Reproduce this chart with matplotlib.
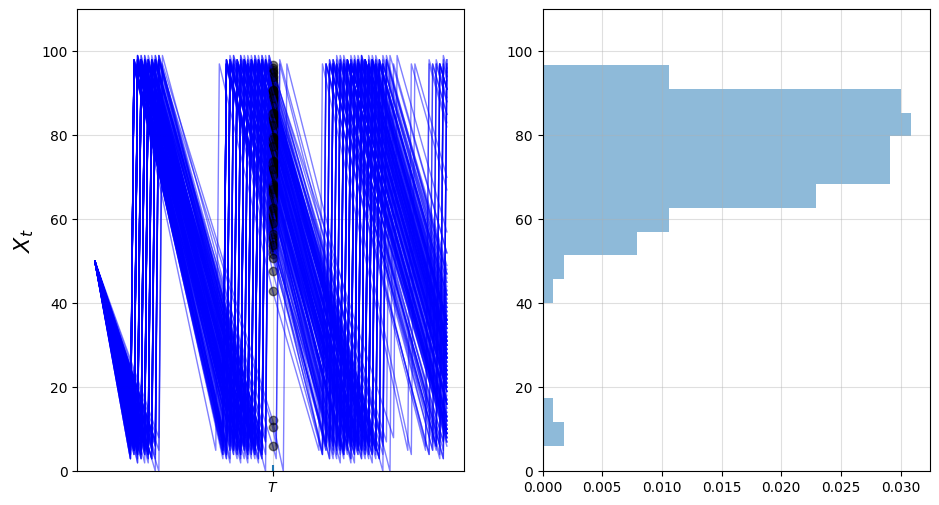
import matplotlib.pyplot as plt

# Inventory sample paths (s-S policy).
T = 50
sim_length = 100
x_init = 50
ymin, ymax = 0, 110

# inventory level at T for each path (black dots, also fed to the histogram)
x_at_T = [
    96.74, 94.2, 92.5, 95.6, 91.8, 93.4, 96.1, 92.9, 94.8, 91.4, 95.1, 93.9,
    85.6, 86.2, 86.9, 87.3, 87.8, 88.1, 88.6, 89.0, 89.4, 89.9, 90.3, 90.8,
    85.9, 86.5, 87.1, 87.6, 88.3, 88.9, 89.2, 89.7, 90.1, 90.6,
    86.0, 86.7, 87.4, 88.0, 88.5, 89.5, 90.0, 90.5, 85.8, 87.0, 88.8, 90.9,
    79.9, 80.3, 80.7, 81.1, 81.5, 81.9, 82.3, 82.7, 83.1, 83.5, 83.9, 84.3, 84.7, 85.2,
    80.1, 80.9, 81.7, 82.5, 83.3, 84.1, 84.9, 80.5, 81.3, 82.1, 82.9, 83.7, 84.5, 85.0,
    80.0, 81.0, 82.0, 83.0, 84.0, 85.3, 82.4,
    74.3, 74.8, 75.2, 75.7, 76.1, 76.6, 77.0, 77.5, 77.9, 78.4, 78.8, 79.3,
    74.5, 75.4, 76.3, 77.2, 78.1, 79.0, 79.6, 74.2, 75.0, 75.9, 76.8, 77.7, 78.6, 79.5,
    74.9, 76.0, 77.1, 78.2, 79.2, 75.6, 77.4,
    68.6, 69.0, 69.5, 69.9, 70.4, 70.8, 71.3, 71.7, 72.2, 72.6, 73.1, 73.5, 73.9,
    68.9, 69.7, 70.6, 71.5, 72.4, 73.3, 68.5, 69.3, 70.2, 71.1, 72.0, 72.9, 73.8,
    69.1, 70.0, 71.0, 72.8, 73.6, 70.5, 71.9,
    62.9, 63.4, 63.9, 64.4, 64.9, 65.4, 65.9, 66.4, 66.9, 67.4, 67.9, 68.3,
    63.1, 64.1, 65.1, 66.1, 67.1, 68.1, 63.6, 64.7, 65.7, 66.7, 67.7, 64.2, 66.2, 67.2,
    57.3, 57.9, 58.4, 58.9, 59.5, 60.0, 60.6, 61.1, 61.6, 62.2, 62.6, 59.2,
    51.8, 52.6, 53.3, 54.0, 54.7, 55.3, 55.9, 56.5, 53.8,
    47.6, 50.8, 42.9, 12.1, 10.5, 6.1,
]

# periods at which each path hits its trough and gets restocked (0 = not reached)
first_restock = [
    17, 16, 15, 18, 14, 16, 17, 15, 16, 14, 17, 15,
    14, 13, 15, 14, 16, 15, 17, 14, 16, 17, 15, 16, 12, 14, 13, 15, 16, 14, 17, 15, 16, 18,
    13, 15, 14, 16, 15, 17, 16, 14, 12, 15, 16, 17,
    13, 12, 14, 11, 15, 13, 14, 16, 12, 15, 14, 16, 13, 15, 11, 14, 12, 15, 13, 16, 14,
    13, 12, 15, 14, 13, 17, 15, 12, 14, 13, 15, 14, 16, 11,
    12, 11, 13, 10, 14, 12, 13, 15, 11, 14, 13, 16, 10, 12, 11, 14, 12, 15, 13,
    11, 13, 12, 14, 11, 15, 14, 12, 13, 10, 14, 13, 11, 15,
    10, 12, 11, 13, 10, 12, 14, 11, 13, 12, 15, 13, 14, 11, 12, 10, 13, 12, 14,
    11, 10, 13, 12, 11, 14, 13, 12, 11, 10, 13, 15, 12, 14,
    10, 11, 10, 12, 11, 10, 12, 11, 13, 12, 10, 13, 10, 11, 12, 10, 11, 12,
    11, 10, 12, 11, 13, 10, 12, 11,
    10, 11, 10, 10, 11, 10, 11, 12, 10, 11, 12, 10,
    10, 10, 11, 10, 11, 10, 11, 10, 11,
    10, 11, 10, 18, 17, 16,
]
second_restock = [
    48, 48, 47, 48, 47, 47, 48, 47, 48, 47, 48, 47,
    45, 45, 45, 45, 46, 46, 46, 46, 46, 47, 47, 47, 45, 45, 45, 46, 46, 46, 46, 47, 47, 47,
    45, 45, 45, 46, 46, 46, 47, 47, 45, 45, 46, 47,
    43, 43, 43, 43, 44, 44, 44, 44, 44, 44, 45, 45, 45, 45, 43, 43, 44, 44, 44, 45, 45,
    43, 43, 44, 44, 45, 45, 45, 43, 43, 44, 44, 45, 45, 44,
    41, 41, 41, 41, 42, 42, 42, 42, 42, 43, 43, 43, 41, 41, 42, 42, 43, 43, 43,
    41, 41, 41, 42, 42, 43, 43, 41, 42, 42, 43, 43, 41, 42,
    39, 39, 39, 39, 40, 40, 40, 40, 41, 41, 41, 41, 41, 39, 39, 40, 40, 41, 41,
    39, 39, 40, 40, 40, 41, 41, 39, 40, 40, 41, 41, 40, 40,
    37, 37, 37, 37, 37, 38, 38, 38, 38, 39, 39, 39, 37, 37, 38, 38, 39, 39,
    37, 37, 38, 38, 39, 37, 38, 39,
    36, 36, 36, 36, 36, 37, 37, 37, 37, 37, 37, 36,
    36, 36, 36, 36, 36, 36, 36, 36, 36,
    36, 36, 34, 53, 51, 51,
]
third_restock = [
    81, 79, 78, 84, 77, 80, 82, 79, 80, 76, 81, 78,
    75, 77, 76, 78, 77, 79, 76, 78, 80, 77, 79, 81, 74, 77, 75, 78, 77, 79, 76, 78, 80, 77,
    76, 78, 77, 75, 80, 78, 79, 76, 77, 79, 77, 81,
    73, 75, 74, 76, 73, 75, 77, 74, 76, 75, 78, 76, 77, 79, 74, 72, 76, 75, 73, 77, 78,
    75, 74, 76, 77, 74, 76, 78, 73, 75, 74, 77, 75, 79, 76,
    71, 73, 72, 74, 70, 73, 75, 72, 74, 76, 73, 77, 71, 73, 72, 74, 75, 76, 74,
    70, 72, 74, 73, 75, 72, 77, 70, 71, 73, 74, 76, 72, 75,
    69, 70, 71, 69, 72, 70, 73, 71, 72, 74, 71, 73, 72, 68, 70, 71, 72, 73, 71,
    70, 69, 70, 72, 73, 74, 72, 71, 69, 71, 73, 72, 70, 73,
    67, 68, 66, 69, 68, 67, 70, 69, 68, 71, 70, 72, 66, 68, 69, 67, 70, 71,
    67, 69, 68, 70, 69, 66, 69, 71,
    65, 66, 64, 67, 66, 68, 66, 67, 69, 68, 67, 65,
    64, 65, 64, 66, 65, 66, 67, 65, 66,
    64, 65, 63, 83, 81, 80,
]
fourth_restock = [0] * 114 + [
    0, 0, 0, 0, 0, 0, 0, 0, 0, 0, 0, 0, 0, 98, 0, 0, 0, 0, 0,
    0, 0, 0, 0, 0, 0, 0, 0, 0, 0, 0, 0, 0, 0,
    97, 0, 96, 0, 0, 98, 0, 0, 0, 0, 0, 0, 95, 0, 0, 98, 0, 0,
    0, 0, 0, 0, 0, 97, 0, 0,
    95, 97, 94, 0, 96, 0, 98, 0, 0, 0, 97, 96,
    93, 95, 94, 97, 96, 98, 0, 96, 0,
    89, 93, 88, 0, 0, 0,
]
trough = [
    0, 7, 4, 8, 6, 3, 7, 5, 9, 6, 4, 8,
    6, 4, 7, 5, 8, 3, 9, 6, 5, 7, 4, 8, 5, 6, 9, 2, 7, 5, 6, 8, 3, 5,
    7, 4, 6, 9, 5, 7, 6, 4, 8, 5, 3, 7,
    6, 4, 8, 5, 7, 3, 9, 6, 5, 7, 4, 8, 6, 5, 7, 2, 6, 8, 5, 7, 9,
    5, 6, 4, 7, 8, 3, 6, 9, 5, 7, 4, 6, 5, 8,
    6, 4, 8, 5, 7, 6, 3, 9, 5, 7, 4, 6, 8, 2, 6, 7, 5, 9, 6,
    5, 7, 4, 8, 6, 3, 7, 5, 9, 6, 4, 8, 6, 5,
    6, 4, 8, 5, 7, 3, 6, 9, 5, 7, 4, 8, 6, 5, 7, 5, 8, 4, 6,
    9, 6, 4, 7, 5, 8, 3, 6, 7, 5, 6, 9, 4, 7,
    6, 4, 8, 5, 7, 3, 6, 9, 5, 7, 4, 8, 5, 6, 2, 7, 5, 9,
    6, 4, 8, 5, 7, 3, 6, 8,
    5, 7, 4, 8, 6, 3, 7, 5, 9, 6, 4, 6,
    5, 7, 4, 8, 6, 3, 7, 5, 9,
    4, 6, 5, 0, 6, 3,
]
peak = [
    98, 97, 98, 99, 96, 97, 99, 98, 97, 97, 98, 96,
    97, 98, 96, 97, 98, 97, 98, 97, 99, 97, 98, 97, 97, 98, 96, 97, 98, 97, 99, 97, 98, 96,
    97, 98, 97, 98, 97, 96, 98, 97, 98, 97, 98, 99,
    97, 98, 97, 96, 97, 98, 97, 99, 97, 98, 97, 96, 98, 97, 98, 97, 97, 98, 96, 97, 99,
    97, 98, 97, 98, 97, 98, 96, 97, 98, 97, 99, 97, 98, 97,
    97, 98, 97, 96, 97, 98, 97, 97, 99, 97, 98, 97, 97, 98, 96, 97, 98, 97, 99,
    97, 98, 97, 97, 98, 96, 97, 98, 97, 97, 98, 97, 99, 97,
    97, 98, 97, 96, 97, 98, 97, 99, 97, 98, 97, 97, 98, 97, 98, 97, 96, 97, 98,
    97, 97, 98, 97, 99, 97, 97, 98, 97, 97, 96, 98, 97, 98,
    97, 98, 97, 96, 97, 98, 97, 97, 99, 97, 98, 97, 97, 98, 97, 96, 97, 98,
    97, 98, 97, 98, 97, 97, 99, 97,
    97, 98, 97, 96, 97, 98, 97, 97, 98, 97, 99, 97,
    97, 98, 97, 96, 97, 98, 97, 97, 98,
    97, 98, 97, 97, 98, 97,
]
x_final = [
    46, 42, 38, 57, 33, 47, 52, 40, 45, 31, 49, 36,
    28, 35, 30, 38, 36, 41, 31, 37, 45, 34, 42, 48, 25, 36, 27, 39, 35, 40, 32, 37, 44, 33,
    31, 39, 34, 28, 43, 36, 41, 30, 36, 42, 35, 47,
    22, 29, 25, 30, 21, 28, 35, 27, 32, 30, 38, 31, 36, 40, 26, 19, 33, 29, 22, 34, 39,
    29, 27, 31, 35, 24, 32, 37, 23, 30, 26, 36, 28, 42, 32,
    16, 23, 20, 25, 12, 22, 28, 19, 27, 31, 23, 34, 17, 24, 19, 26, 29, 32, 27,
    10, 21, 26, 23, 30, 18, 35, 13, 14, 22, 27, 31, 22, 28,
    9, 12, 16, 8, 20, 13, 24, 17, 21, 27, 16, 24, 20, 97, 11, 17, 19, 23, 16,
    12, 9, 14, 20, 25, 27, 20, 17, 10, 16, 23, 21, 13, 24,
    94, 6, 91, 8, 9, 98, 12, 11, 8, 15, 13, 19, 88, 7, 9, 96, 11, 16,
    7, 9, 9, 13, 10, 94, 10, 15,
    88, 95, 85, 9, 91, 10, 97, 8, 10, 12, 96, 91,
    82, 89, 85, 93, 91, 98, 7, 91, 10,
    70, 83, 67, 52, 47, 43,
]


def path_vertices(i):
    # corner points of path i: start, troughs/peaks around restocks, value at T, end
    pts = [(0, x_init)]
    for r in (first_restock[i], second_restock[i], third_restock[i], fourth_restock[i]):
        if r:
            pts.append((r, trough[i]))
            pts.append((r + 1, peak[i]))
    pts.append((T, x_at_T[i]))
    pts.append((sim_length - 1, x_final[i]))
    pts.sort()
    t, x = zip(*pts)
    return t, x


fig, axes = plt.subplots(1, 2, figsize=(9.39, 5.05), dpi=100)
fig.subplots_adjust(left=0.0823, right=0.9901, bottom=0.0667, top=0.9816, wspace=0.2015)

for ax in axes:
    ax.grid(alpha=0.4)

ax = axes[0]
ax.set_ylim(ymin, ymax)
ax.set_ylabel('$X_t$', fontsize=16)
ax.vlines((T,), -1.5, 1.5)
ax.set_xticks((T,))
ax.set_xticklabels((r'$T$',))

for m in range(len(x_at_T)):
    t, x = path_vertices(m)
    ax.plot(t, x, 'b-', lw=1, alpha=0.5)
    ax.plot((T,), (x_at_T[m],), 'ko', alpha=0.5)

axes[1].set_ylim(ymin, ymax)
axes[1].hist(x_at_T, bins=16, density=True, orientation='horizontal',
             histtype='bar', alpha=0.5)

plt.savefig('out.png')
